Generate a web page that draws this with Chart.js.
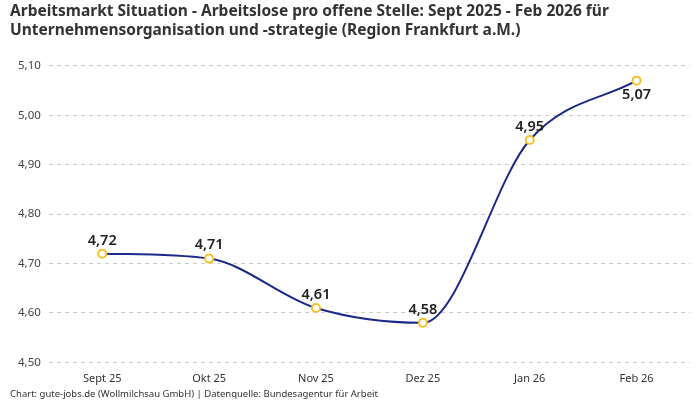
<!DOCTYPE html>
<html>
<head>
<meta charset="utf-8">
<script src="https://cdn.jsdelivr.net/npm/chart.js@4"></script>
<style>
  html, body { margin: 0; padding: 0; background: #fff; }
  #wrap { width: 700px; height: 400px; }
</style>
</head>
<body>
<div id="wrap"><canvas id="myLineChart"></canvas></div>
<script>
// Daten
var monate = ['Sept 25', 'Okt 25', 'Nov 25', 'Dez 25', 'Jan 26', 'Feb 26'];
var arbeitslosePro = [4.72, 4.71, 4.61, 4.58, 4.95, 5.07];
var yTicks = [4.5, 4.6, 4.7, 4.8, 4.9, 5.0, 5.1];

var schrift = "'Noto Sans', sans-serif";

function deZahl(v) {
    return v.toFixed(2).replace('.', ',');
}

// Werte an den Punkten beschriften
var wertLabels = {
    id: 'wertLabels',
    afterDatasetsDraw: function(chart) {
        var ctx = chart.ctx;
        var meta = chart.getDatasetMeta(0);
        ctx.save();
        ctx.font = '600 14.5px ' + schrift;
        ctx.fillStyle = '#222';
        ctx.textAlign = 'center';
        meta.data.forEach(function(pt, i) {
            var last = i === meta.data.length - 1;
            ctx.textBaseline = last ? 'top' : 'bottom';
            ctx.fillText(deZahl(arbeitslosePro[i]), pt.x, last ? pt.y + 7 : pt.y - 6);
        });
        ctx.restore();
    }
};

window.onload = function() {
    var ctx = document.getElementById('myLineChart').getContext('2d');
    new Chart(ctx, {
        type: 'line',
        data: {
            labels: monate,
            datasets: [{
                data: arbeitslosePro,
                borderColor: '#1b2a8a',
                borderWidth: 2,
                cubicInterpolationMode: 'monotone',
                pointBackgroundColor: '#fff',
                pointBorderColor: '#f5c22b',
                pointBorderWidth: 2,
                pointRadius: 4,
                fill: false
            }]
        },
        options: {
            responsive: true,
            maintainAspectRatio: false,
            animation: false,
            layout: { padding: { left: 10, right: 10, top: 0, bottom: 0 } },
            plugins: {
                legend: { display: false },
                tooltip: { enabled: false },
                title: {
                    display: true,
                    align: 'start',
                    text: ['Arbeitsmarkt Situation - Arbeitslose pro offene Stelle: Sept 2025 - Feb 2026 für',
                           'Unternehmensorganisation und -strategie (Region Frankfurt a.M.)'],
                    color: '#333',
                    font: { family: schrift, size: 15.5, weight: 'bold', lineHeight: 1.22 },
                    padding: { top: 2, bottom: 26 }
                },
                subtitle: {
                    display: true,
                    position: 'bottom',
                    align: 'start',
                    text: 'Chart: gute-jobs.de (Wollmilchsau GmbH) | Datenquelle: Bundesagentur für Arbeit',
                    color: '#333',
                    font: { family: schrift, size: 9.5 },
                    padding: { top: 1, bottom: 0 }
                }
            },
            scales: {
                x: {
                    offset: true,
                    grid: { display: false },
                    border: { display: false },
                    ticks: { color: '#333', font: { family: schrift, size: 11 }, padding: 2 }
                },
                y: {
                    min: 4.5,
                    max: 5.1,
                    afterBuildTicks: function(axis) {
                        axis.ticks = yTicks.map(function(v) { return { value: v }; });
                    },
                    grid: { color: '#ccc', drawTicks: false },
                    border: { display: false, dash: [4, 4] },
                    ticks: {
                        color: '#444',
                        font: { family: schrift, size: 11.5 },
                        padding: 8,
                        callback: function(v) { return deZahl(v); }
                    }
                }
            }
        },
        plugins: [wertLabels]
    });
};
</script>
</body>
</html>
